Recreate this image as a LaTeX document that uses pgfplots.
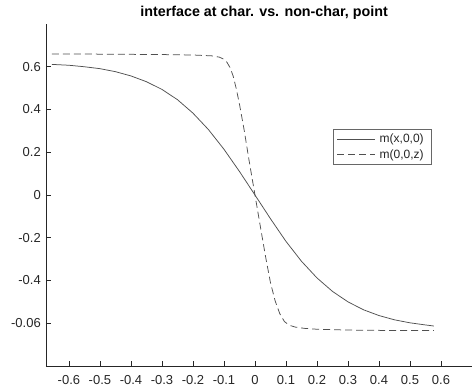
\documentclass[border=0pt]{standalone}
\usepackage{pgfplots}
\pgfplotsset{compat=1.18}
\usepackage{fontspec}
\setmainfont{Liberation Sans}
\definecolor{axc}{RGB}{38,38,38}
\definecolor{lnc}{RGB}{80,80,80}
\begin{document}
\begin{tikzpicture}
\useasboundingbox (-46pt,-21pt) rectangle (426pt,366pt);
\begin{axis}[
  at={(0pt,0pt)}, anchor=south west,
  scale only axis, width=426pt, height=342pt,
  xmin=-0.674, xmax=0.70, ymin=-0.8, ymax=0.8,
  axis x line=bottom, axis y line=left,
  axis line style={-, draw=axc, line width=0.6pt},
  tick align=inside, major tick length=5pt,
  tick style={draw=axc, line width=0.6pt},
  xtick={-0.6,-0.5,-0.4,-0.3,-0.2,-0.1,0,0.1,0.2,0.3,0.4,0.5,0.6},
  xticklabels={-0.6,-0.5,-0.4,-0.3,-0.2,-0.1,0,0.1,0.2,0.3,0.4,0.5,0.6},
  ytick={-0.6,-0.4,-0.2,0,0.2,0.4,0.6},
  yticklabels={-0.06,-0.4,-0.2,0,0.2,0.4,0.6},
  /pgf/number format/assume math mode=true,
  ticklabel style={font=\fontsize{13}{13}\selectfont, text=axc},
  xticklabel style={yshift=-5.5pt},
  yticklabel style={xshift=-1.7pt},
  title={interface at char. vs. non-char, point},
  title style={font=\fontsize{14.3}{14.3}\selectfont\bfseries, text=black,
    at={(axis description cs:0.512,1)}, anchor=base, yshift=1.5pt, inner sep=0pt},
  legend style={at={(axis description cs:0.674,0.693)}, anchor=north west,
    draw=axc!70, line width=0.6pt, font=\fontsize{12}{12}\selectfont, text=axc,
    inner xsep=3.5pt, inner ysep=3pt, row sep=1pt, fill=white,
    nodes={inner xsep=4pt}},
  legend cell align=left,
  legend image code/.code={\draw[#1] (0pt,0pt) -- (38pt,0pt);},
]
\addplot[lnc, line width=0.75pt, solid] coordinates {
(-0.655,0.611) (-0.6,0.607) (-0.55,0.600) (-0.5,0.591) (-0.45,0.577)
(-0.4,0.557) (-0.35,0.530) (-0.3,0.494) (-0.25,0.446) (-0.2,0.383)
(-0.15,0.306) (-0.1,0.214) (-0.05,0.110) (0,0.0)
(0.05,-0.111) (0.1,-0.217) (0.15,-0.310) (0.2,-0.388) (0.25,-0.451)
(0.3,-0.500) (0.35,-0.537) (0.4,-0.564) (0.45,-0.584) (0.5,-0.598)
(0.55,-0.608) (0.577,-0.613)
};
\addlegendentry{m(x,0,0)}
\addplot[lnc, line width=0.75pt, dash pattern=on 7pt off 4pt] coordinates {
(-0.655,0.660) (-0.5,0.659) (-0.3,0.657) (-0.2,0.655) (-0.14,0.651)
(-0.115,0.645) (-0.1,0.635) (-0.09,0.620) (-0.08,0.595) (-0.07,0.555)
(-0.06,0.495) (-0.05,0.425) (-0.035,0.305) (-0.02,0.170) (0,0.0)
(0.02,-0.170) (0.035,-0.295) (0.05,-0.410) (0.065,-0.495) (0.08,-0.555)
(0.095,-0.592) (0.11,-0.609) (0.13,-0.618) (0.16,-0.624) (0.2,-0.628)
(0.3,-0.632) (0.45,-0.634) (0.577,-0.634)
};
\addlegendentry{m(0,0,z)}
\end{axis}
\end{tikzpicture}
\end{document}
